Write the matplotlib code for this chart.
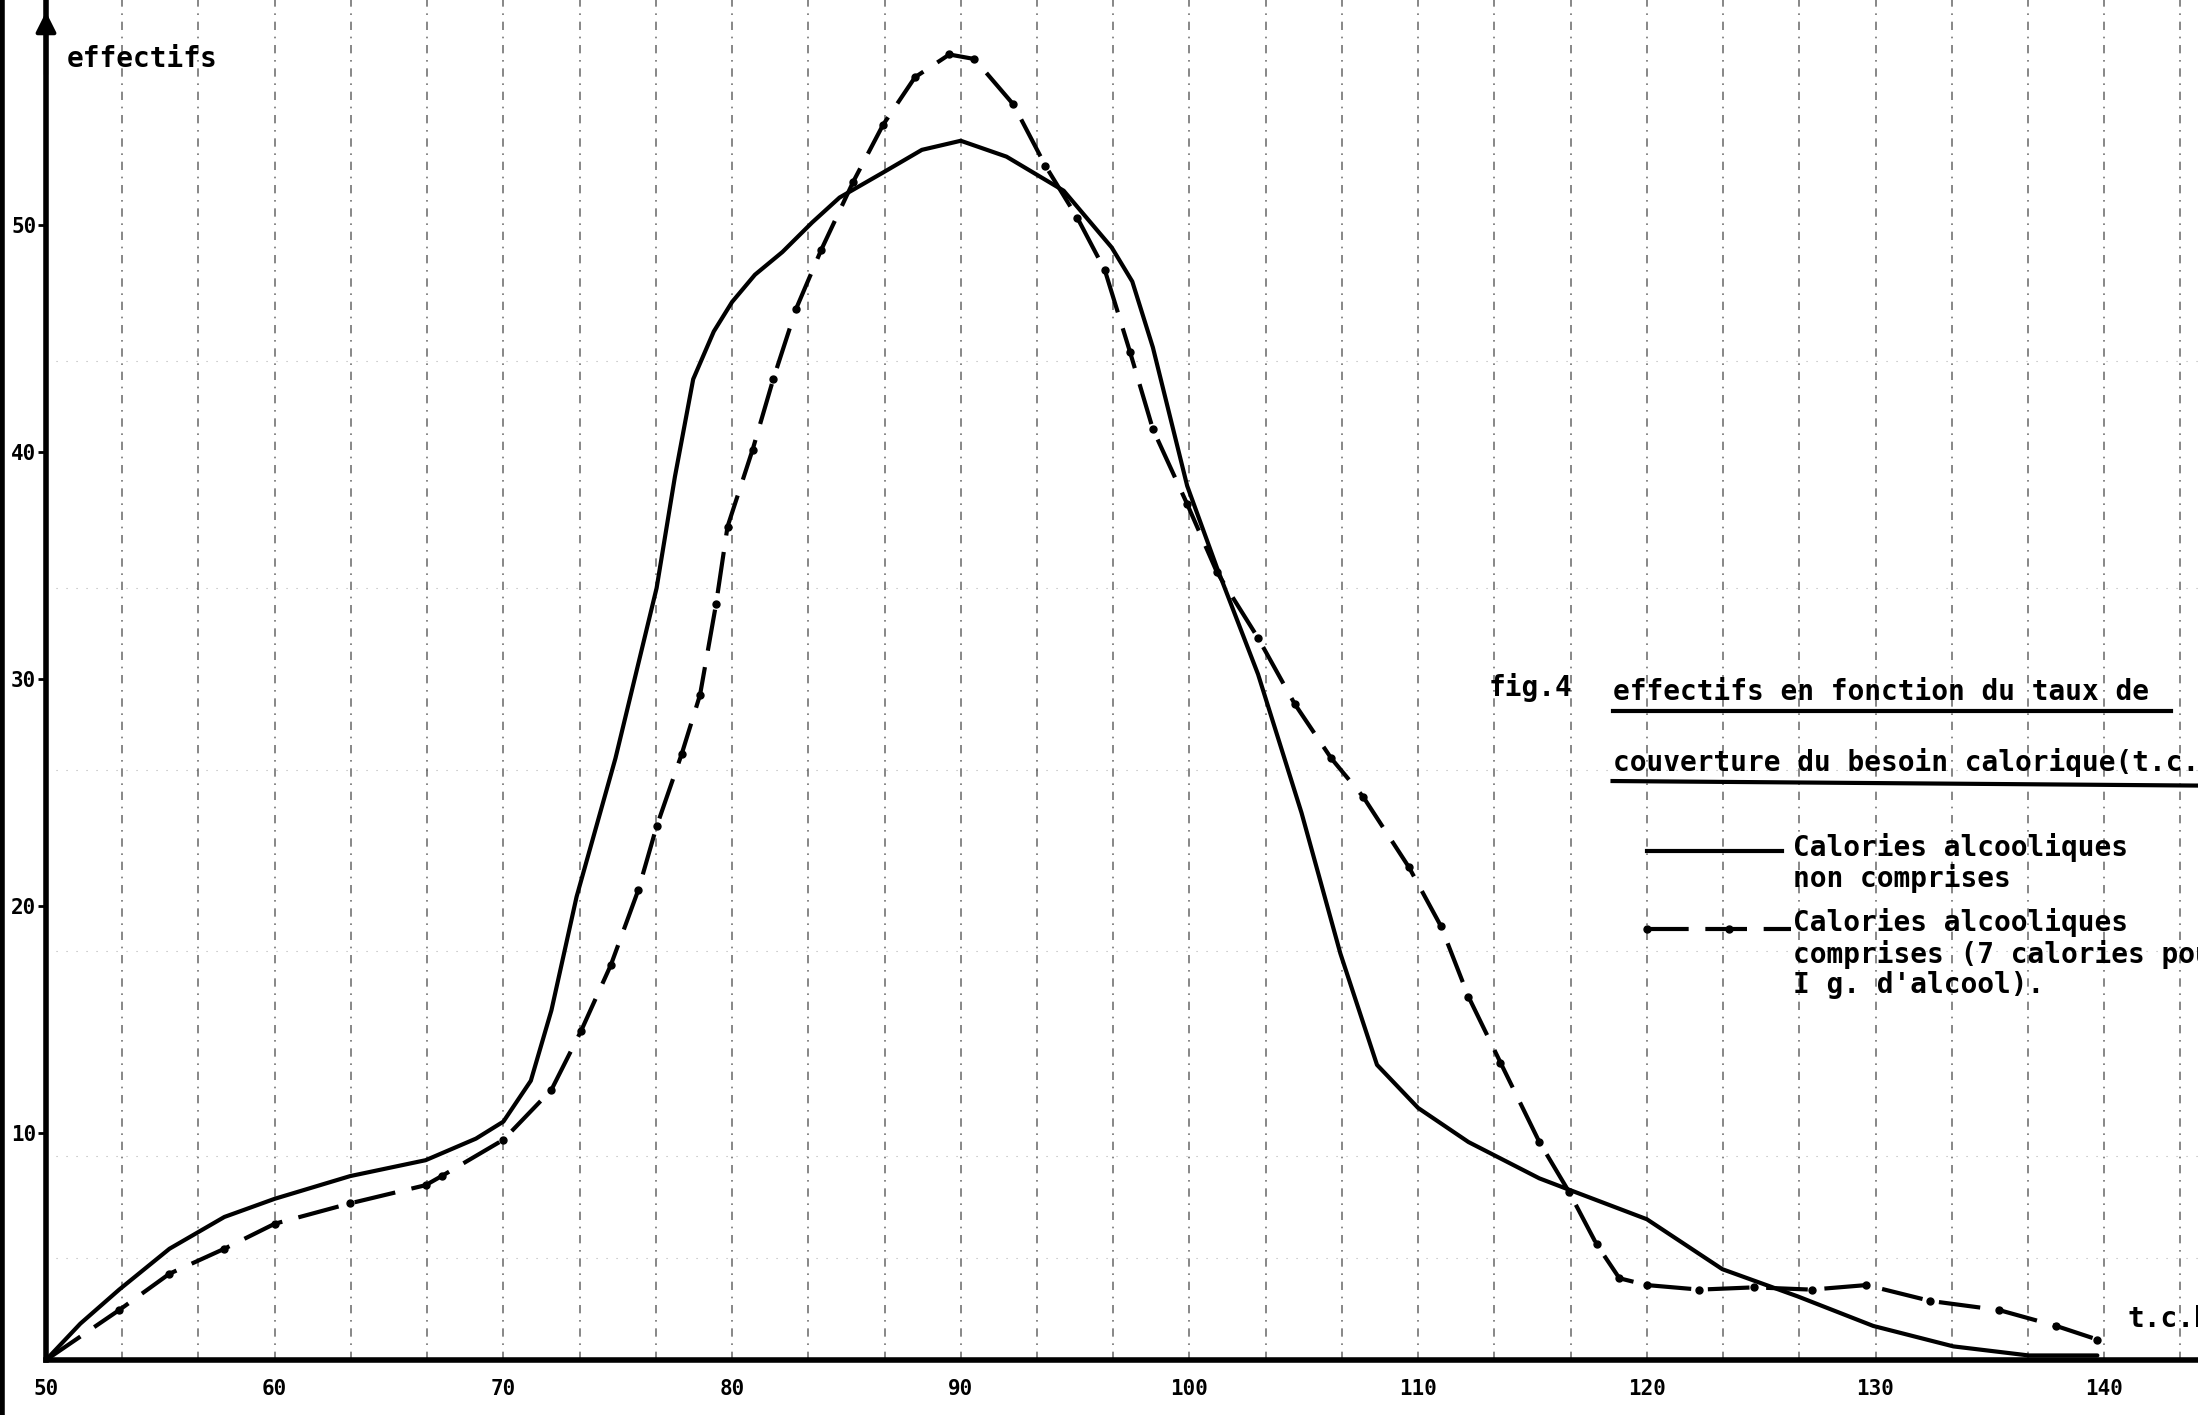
import matplotlib
matplotlib.use("Agg")
import matplotlib.pyplot as plt
import numpy as np

# t.c.b. (taux de couverture du besoin calorique) values
tc_sans = [50, 51.5, 53.2, 55.4, 57.8, 60, 63.3, 66.6, 68.8, 70, 71.2, 72.1, 73.2, 74.9,
           76.7, 77.5, 78.3, 79.2, 80, 81, 82.2, 83.5, 84.7, 86.6, 88.3, 90, 92, 94.5,
           96.6, 97.5, 98.4, 99.9, 101.2, 103, 104.9, 106.6, 108.2, 110, 112.2, 115.3,
           116.6, 120, 123.3, 126.6, 129.9, 133.4, 136.7, 139.7]
eff_sans = [0, 1.6, 3.1, 4.9, 6.3, 7.1, 8.1, 8.8, 9.75, 10.5, 12.3, 15.4, 20.4, 26.5,
            34, 38.9, 43.2, 45.3, 46.6, 47.8, 48.8, 50.1, 51.2, 52.3, 53.3, 53.7, 53.0, 51.5,
            49.0, 47.5, 44.6, 38.5, 34.9, 30.2, 24.1, 17.9, 13.0, 11.1, 9.6, 8.0,
            7.5, 6.2, 4.0, 2.8, 1.5, 0.6, 0.2, 0.2]

tc_avec = [50, 53.2, 55.4, 57.8, 60, 63.3, 66.6, 67.3, 70, 72.1, 73.4, 74.7, 75.9, 76.7,
           77.8, 78.6, 79.3, 79.8, 80.9, 81.8, 82.8, 83.9, 85.3, 86.6, 88.0, 89.5, 90.6,
           92.3, 93.7, 95.1, 96.3, 97.4, 98.4, 99.9, 101.2, 103.0, 104.6, 106.2, 107.6,
           109.6, 111.0, 112.2, 113.6, 115.3, 116.6, 117.8, 118.8, 120, 122.3, 124.7,
           127.2, 129.6, 132.4, 135.4, 137.9, 139.7]
eff_avec = [0, 2.2, 3.8, 4.9, 6.0, 6.9, 7.7, 8.1, 9.7, 11.9, 14.5, 17.4, 20.7, 23.5,
            26.7, 29.3, 33.3, 36.7, 40.1, 43.2, 46.3, 48.9, 51.9, 54.4, 56.5, 57.5, 57.3,
            55.3, 52.6, 50.3, 48.0, 44.4, 41.0, 37.7, 34.7, 31.8, 28.9, 26.5, 24.8,
            21.7, 19.1, 16.0, 13.1, 9.6, 7.4, 5.1, 3.6, 3.3, 3.1, 3.2,
            3.1, 3.3, 2.6, 2.2, 1.5, 0.9]

x_ticks = [50, 60, 70, 80, 90, 100, 110, 120, 130, 140]
y_ticks = [10, 20, 30, 40, 50]

mono = "DejaVu Sans Mono"

fig = plt.figure(figsize=(21.98, 14.15), dpi=100)
ax = fig.add_axes([46 / 2198, 55 / 1415, 1 - 46 / 2198, 1 - 55 / 1415])
ax.set_xlim(50, 144.1)
ax.set_ylim(0, 59.9)

# vertical dash-dot guide lines of the graph paper
for gx in np.arange(50 + 10 / 3, 144, 10 / 3):
    ax.axvline(gx, color="black", lw=1.2, ls=(0, (5, 4, 1, 4)), alpha=0.55, zorder=1)
for gy in [4.5, 9, 18, 26, 34, 44]:
    ax.axhline(gy, color="black", lw=0.8, ls=(0, (1, 8)), alpha=0.3, zorder=1)

ax.plot(tc_sans, eff_sans, color="black", lw=3, solid_capstyle="round",
        solid_joinstyle="round", zorder=3)
ax.plot(tc_avec, eff_avec, color="black", lw=3, ls=(0, (10, 4)), marker="o",
        markersize=5, zorder=3)

for side in ["top", "right"]:
    ax.spines[side].set_visible(False)
ax.spines["left"].set_linewidth(4)
ax.spines["bottom"].set_linewidth(4)

ax.set_xticks(x_ticks)
ax.set_xticklabels([str(v) for v in x_ticks], fontfamily=mono, fontweight="bold", fontsize=15)
ax.set_yticks(y_ticks)
ax.set_yticklabels([str(v) for v in y_ticks], fontfamily=mono, fontweight="bold", fontsize=15)
ax.tick_params(axis="x", length=0, pad=14)
ax.tick_params(axis="y", length=6, width=2, pad=1)

# arrow at the top of the y axis
ax.annotate("", xy=(50, 59.5), xytext=(50, 56.5), xycoords="data",
            arrowprops=dict(arrowstyle="-|>", color="black", lw=3, mutation_scale=30),
            annotation_clip=False)

tkw = dict(fontfamily=mono, fontweight="bold", fontsize=20, color="black")
ax.text(50.9, 57.3, "effectifs", va="center", **tkw)
ax.text(141.0, 1.8, "t.c.b.", va="center", **tkw)

ax.text(113.1, 29.6, "fig.4", va="center", **tkw)
ax.text(118.5, 29.4, "effectifs en fonction du taux de", va="center", **tkw)
ax.plot([118.5, 142.9], [28.6, 28.6], color="black", lw=3, clip_on=False)
ax.text(118.5, 26.3, "couverture du besoin calorique(t.c.b.)", va="center", **tkw)
ax.plot([118.5, 144.1], [25.5, 25.3], color="black", lw=3, clip_on=False)

ax.plot([120.0, 125.9], [22.4, 22.4], color="black", lw=3)
ax.text(126.4, 21.9, "Calories alcooliques\nnon comprises", va="center",
        linespacing=1.1, **tkw)
ax.plot([120.0, 126.3], [19.0, 19.0], color="black", lw=3, ls=(0, (10, 4)))
ax.plot([120.0, 123.6], [19.0, 19.0], ls="none", marker="o",
        markersize=5, color="black")
ax.text(126.4, 17.9, "Calories alcooliques\ncomprises (7 calories pour\nI g. d'alcool).",
        va="center", linespacing=1.1, **tkw)

# left edge of the scanned sheet
fig.add_artist(plt.Line2D([0.001, 0.001], [0, 1], color="black", lw=4))

fig.savefig("out.png", dpi=100)
